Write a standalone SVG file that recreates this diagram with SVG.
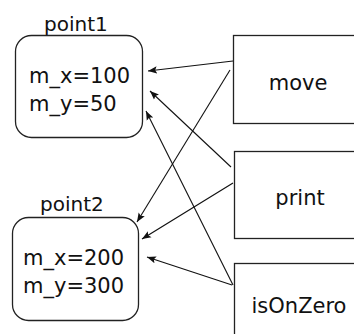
<svg xmlns="http://www.w3.org/2000/svg" width="354" height="334" viewBox="0 0 354 334">
<defs>
<style>
text{font-family:"DejaVu Sans","Liberation Sans",sans-serif;fill:#111}
.lbl{font-size:20px}
.val{font-size:21px}
.meth{font-size:21px;text-anchor:middle}
.box{fill:#fff;stroke:#222;stroke-width:1.3}
.edge{stroke:#111;stroke-width:1.1;fill:none;marker-end:url(#arr)}
</style>
<marker id="arr" viewBox="0 0 10 10" refX="10" refY="5" markerWidth="9" markerHeight="9" markerUnits="userSpaceOnUse" orient="auto">
<path d="M0,1 L10,5 L0,9 L2,5 Z" fill="#111"/>
</marker>
</defs>
<rect width="354" height="334" fill="#fff"/>
<g id="point1">
<text class="lbl" x="44" y="31">point1</text>
<rect class="box" x="15.5" y="35.5" width="127" height="102" rx="16"/>
<text class="val" x="29" y="83">m_x=100</text>
<text class="val" x="29" y="111">m_y=50</text>
</g>
<g id="point2">
<text class="lbl" x="40" y="211">point2</text>
<rect class="box" x="12.5" y="217.5" width="126" height="103" rx="16"/>
<text class="val" x="23" y="265">m_x=200</text>
<text class="val" x="23" y="293">m_y=300</text>
</g>
<g id="move">
<rect class="box" x="233.5" y="35.5" width="130" height="88"/>
<text class="meth" x="298" y="90">move</text>
</g>
<g id="print">
<rect class="box" x="234.5" y="151.5" width="130" height="87"/>
<text class="meth" x="300" y="205">print</text>
</g>
<g id="isOnZero">
<rect class="box" x="234.5" y="263.5" width="130" height="90"/>
<text class="meth" x="299" y="313">isOnZero</text>
</g>
<g id="connectors">
<line class="edge" x1="233" y1="61" x2="148" y2="71"/>
<line class="edge" x1="231" y1="167" x2="150" y2="91"/>
<line class="edge" x1="233" y1="285" x2="146" y2="111"/>
<line class="edge" x1="230" y1="70" x2="137" y2="222"/>
<line class="edge" x1="233" y1="183" x2="142" y2="239"/>
<line class="edge" x1="232" y1="285" x2="147" y2="257"/>
</g>
</svg>
